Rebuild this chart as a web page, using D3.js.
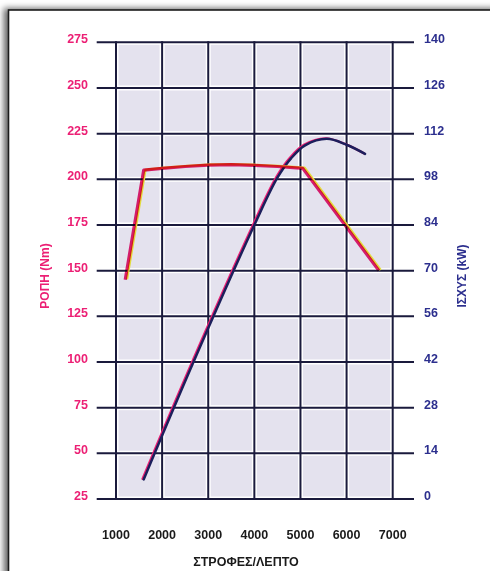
<!DOCTYPE html>
<html>
<head>
<meta charset="utf-8">
<script src="https://cdn.jsdelivr.net/npm/d3@7"></script>
<style>
  html, body { margin: 0; padding: 0; background: #ffffff; }
  svg { display: block; }
  text { font-family: "Liberation Sans", Arial, sans-serif; font-weight: bold; }
</style>
</head>
<body>
<svg id="chart" width="490" height="571"></svg>
<script>
// Engine speed ticks (rpm)
const rpmTicks = [1000, 2000, 3000, 4000, 5000, 6000, 7000];
// Torque axis (Nm) and power axis (kW) ticks
const torqueTicks = [25, 50, 75, 100, 125, 150, 175, 200, 225, 250, 275];
const powerTicks = [0, 14, 28, 42, 56, 70, 84, 98, 112, 126, 140];

// Torque curve: rpm / Nm
const torqueRpm = [1200, 1600, 2000, 2500, 3000, 3500, 4000, 4500, 5050, 6700];
const torqueNm  = [145, 205, 206, 207, 207.8, 208, 207.6, 207, 206, 150];

// Power curve: rpm / kW
const powerRpm = [1600, 2680, 4000, 4500, 4800, 5100, 5570, 6000, 6400];
const powerKw  = [6, 42, 84, 98.5, 104.5, 108.4, 110.4, 108.6, 105.8];

const svg = d3.select("#chart");

const x = d3.scaleLinear().domain([1000, 7000]).range([116, 392.7]);
const yT = d3.scaleLinear().domain([25, 275]).range([499, 42.3]);
const yP = d3.scaleLinear().domain([0, 140]).range([499, 42.3]);

const pink = "#ec1f74";
const navy = "#1c1f5c";
const gridCol = "#1a1a3c";
const blueText = "#2c2f8e";

// frame with soft shadow
const defs = svg.append("defs");
const f = defs.append("filter").attr("id", "shadow")
  .attr("x", "-10%").attr("y", "-10%").attr("width", "130%").attr("height", "130%");
f.append("feDropShadow").attr("dx", -4).attr("dy", -1)
  .attr("stdDeviation", 3).attr("flood-color", "#000").attr("flood-opacity", 0.6);

svg.append("rect")
  .attr("x", 8.5).attr("y", 10).attr("width", 520).attr("height", 600)
  .attr("fill", "#ffffff").attr("stroke", "#1b1b1b").attr("stroke-width", 1.6)
  .attr("filter", "url(#shadow)");

// lavender cells, inset from the grid lines
const cells = svg.append("g");
for (let i = 0; i < rpmTicks.length - 1; i++) {
  for (let j = 0; j < torqueTicks.length - 1; j++) {
    const x0 = x(rpmTicks[i]), x1 = x(rpmTicks[i + 1]);
    const y0 = yT(torqueTicks[j + 1]), y1 = yT(torqueTicks[j]);
    cells.append("rect")
      .attr("x", x0 + 2.5).attr("y", y0 + 2.5)
      .attr("width", x1 - x0 - 5).attr("height", y1 - y0 - 5)
      .attr("fill", "#e4e2ee");
  }
}

// grid lines
const grid = svg.append("g").attr("stroke", gridCol).attr("stroke-width", 2);
grid.selectAll("line.h").data(torqueTicks).join("line")
  .attr("x1", 96.7).attr("x2", 414)
  .attr("y1", d => yT(d)).attr("y2", d => yT(d));
grid.selectAll("line.v").data(rpmTicks).join("line")
  .attr("x1", d => x(d)).attr("x2", d => x(d))
  .attr("y1", yT(275) - 1).attr("y2", yT(25) + 1);

// tick labels
svg.append("g").selectAll("text").data(torqueTicks).join("text")
  .attr("x", 88).attr("y", d => yT(d) - 3)
  .attr("text-anchor", "end").attr("dominant-baseline", "central")
  .attr("font-size", 12.5).attr("fill", pink)
  .text(d => d);

svg.append("g").selectAll("text").data(powerTicks).join("text")
  .attr("x", 424).attr("y", d => yP(d) - 3)
  .attr("text-anchor", "start").attr("dominant-baseline", "central")
  .attr("font-size", 12.5).attr("fill", blueText)
  .text(d => d);

svg.append("g").selectAll("text").data(rpmTicks).join("text")
  .attr("x", d => x(d)).attr("y", 535)
  .attr("text-anchor", "middle").attr("dominant-baseline", "central")
  .attr("font-size", 12.5).attr("fill", "#1a1a1a")
  .text(d => d);

// axis titles
svg.append("text")
  .attr("x", 246).attr("y", 562)
  .attr("text-anchor", "middle").attr("dominant-baseline", "central")
  .attr("font-size", 12.5).attr("fill", "#1a1a1a")
  .text("ΣΤΡΟΦΕΣ/ΛΕΠΤΟ");

svg.append("text")
  .attr("transform", "translate(45,276) rotate(-90)")
  .attr("text-anchor", "middle").attr("dominant-baseline", "central")
  .attr("font-size", 12).attr("fill", pink)
  .text("ΡΟΠΗ (Nm)");

svg.append("text")
  .attr("transform", "translate(461.5,276) rotate(-90)")
  .attr("text-anchor", "middle").attr("dominant-baseline", "central")
  .attr("font-size", 12).attr("fill", blueText)
  .text("ΙΣΧΥΣ (kW)");

// curves
const torqueData = torqueRpm.map((r, i) => [r, torqueNm[i]]);
const powerData = powerRpm.map((r, i) => [r, powerKw[i]]);

const torqueLine = d3.line().x(d => x(d[0])).y(d => yT(d[1])).curve(d3.curveLinear);
const powerLine = d3.line().x(d => x(d[0])).y(d => yP(d[1])).curve(d3.curveCatmullRom.alpha(0.5));

const curves = svg.append("g");

// power: navy line with a slight magenta fringe
curves.append("path").datum(powerData)
  .attr("d", powerLine).attr("fill", "none")
  .attr("stroke", pink).attr("stroke-width", 2.2)
  .attr("stroke-linecap", "round")
  .attr("transform", "translate(-1.2,-0.6)");
curves.append("path").datum(powerData)
  .attr("d", powerLine).attr("fill", "none")
  .attr("stroke", navy).attr("stroke-width", 2.5)
  .attr("stroke-linecap", "round");

// torque: magenta line over a thin yellow fringe
curves.append("path").datum(torqueData)
  .attr("d", torqueLine).attr("fill", "none")
  .attr("stroke", "#e2dc3c").attr("stroke-width", 2.4)
  .attr("stroke-linejoin", "round")
  .attr("transform", "translate(1.8,-0.6)");
curves.append("path").datum(torqueData)
  .attr("d", torqueLine).attr("fill", "none")
  .attr("stroke", pink).attr("stroke-width", 3.2)
  .attr("stroke-linejoin", "round")
  .style("mix-blend-mode", "multiply");
</script>
</body>
</html>
